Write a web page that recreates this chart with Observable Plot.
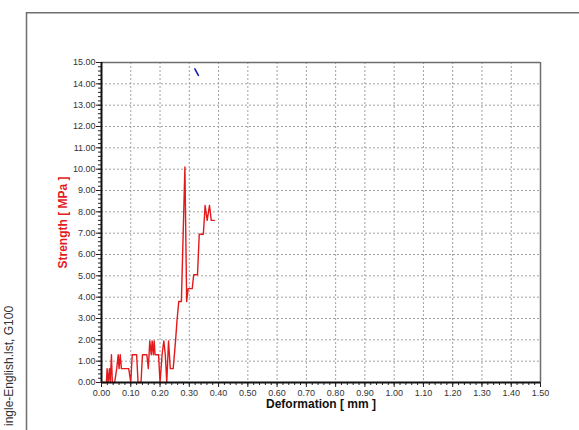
<!DOCTYPE html>
<html>
<head>
<meta charset="utf-8">
<script src="https://cdn.jsdelivr.net/npm/d3@7"></script>
<script src="https://cdn.jsdelivr.net/npm/@observablehq/plot@0.6"></script>
<style>
  html, body { margin: 0; padding: 0; background: #fff; }
  #chart { width: 579px; height: 430px; overflow: hidden; }
</style>
</head>
<body>
<div id="chart"></div>
<script>
// Strength test record: deformation [mm] vs strength [MPa]
const deformation = [
  0.000, 0.017, 0.019, 0.023, 0.027, 0.030, 0.034, 0.037, 0.045, 0.052,
  0.057, 0.060, 0.064, 0.068, 0.070, 0.093, 0.100, 0.105, 0.120, 0.125,
  0.135, 0.140, 0.155, 0.160, 0.165, 0.170, 0.173, 0.177, 0.180, 0.183,
  0.195, 0.200, 0.207, 0.213, 0.218, 0.223, 0.229, 0.235, 0.245, 0.253,
  0.258, 0.264, 0.273, 0.285, 0.291, 0.296, 0.310, 0.315, 0.328, 0.334,
  0.348, 0.354, 0.361, 0.369, 0.375, 0.386
];
const strength = [
  0.00, 0.00, 0.65, 0.00, 0.65, 0.00, 1.30, 0.00, 0.00, 0.65,
  1.30, 0.65, 1.30, 0.65, 0.65, 0.65, 0.00, 1.30, 1.30, 0.00,
  0.00, 1.30, 1.30, 0.65, 1.95, 1.30, 1.95, 1.30, 1.95, 1.30,
  1.30, 0.00, 1.30, 1.95, 1.30, 0.00, 1.95, 0.65, 0.65, 1.95,
  2.90, 3.80, 3.80, 10.10, 3.80, 4.40, 4.40, 5.05, 5.05, 6.95,
  6.95, 8.30, 7.60, 8.30, 7.60, 7.60
];

// Second trace (short segment near the top)
const deformation2 = [0.319, 0.331];
const strength2 = [14.70, 14.40];

// Axis ticks
const xTicks = [0.0, 0.1, 0.2, 0.3, 0.4, 0.5, 0.6, 0.7, 0.8, 0.9, 1.0, 1.1, 1.2, 1.3, 1.4, 1.5];
const yTicks = [0, 1, 2, 3, 4, 5, 6, 7, 8, 9, 10, 11, 12, 13, 14, 15];
const xMinor = d3.range(0, 76).map(i => i * 0.02);
const yMinor = d3.range(0, 76).map(i => i * 0.2);

const xLabel = "Deformation [ mm ]";
const yLabel = "Strength [ MPa ]";
const sideNote = "ingle-English.lst, G100";

const series1 = deformation.map((d, i) => ({x: d, y: strength[i]}));
const series2 = deformation2.map((d, i) => ({x: d, y: strength2[i]}));

const font = "'Liberation Sans', Arial, sans-serif";

const chart = Plot.plot({
  width: 579,
  height: 430,
  marginLeft: 101,
  marginRight: 39,
  marginTop: 62,
  marginBottom: 48,
  style: {fontFamily: font, background: "#fff", overflow: "visible"},
  x: {domain: [0, 1.5]},
  y: {domain: [0, 15]},
  marks: [
    // dotted grid
    Plot.ruleX(xTicks.slice(1, -1), {stroke: "#a0a0a0", strokeDasharray: "2,2", strokeWidth: 1}),
    Plot.ruleY(yTicks.slice(1, -1), {stroke: "#a0a0a0", strokeDasharray: "2,2", strokeWidth: 1}),
    // plot frame top and right
    Plot.ruleY([15], {stroke: "#6e6e6e", strokeWidth: 1.5}),
    Plot.ruleX([1.5], {stroke: "#6e6e6e", strokeWidth: 1.5}),
    // minor ticks
    Plot.axisX({ticks: xMinor, tickSize: 3, tickFormat: () => "", label: null, stroke: "#222"}),
    Plot.axisY({ticks: yMinor, tickSize: 3, tickFormat: () => "", label: null, stroke: "#222"}),
    // major ticks and labels
    Plot.axisX({ticks: xTicks, tickSize: 5, tickPadding: 2, tickFormat: d3.format(".2f"),
      label: null, fontSize: 9, fill: "#333", stroke: "#222"}),
    Plot.axisY({ticks: yTicks, tickSize: 5, tickPadding: 1, tickFormat: d3.format(".2f"),
      label: null, fontSize: 9, fill: "#333", stroke: "#222"}),
    // data
    Plot.line(series1, {x: "x", y: "y", stroke: "#e31a1c", strokeWidth: 1.4}),
    Plot.line(series2, {x: "x", y: "y", stroke: "#1c1cb0", strokeWidth: 1.6}),
    // axis lines
    Plot.ruleY([0], {stroke: "#111", strokeWidth: 2}),
    Plot.ruleX([0], {stroke: "#111", strokeWidth: 2}),
    // axis titles
    Plot.text([xLabel], {frameAnchor: "bottom", dy: 25, fontSize: 12, fontWeight: "bold", fill: "#111"}),
    Plot.text([yLabel], {frameAnchor: "left", dx: -38, rotate: -90, textAnchor: "middle",
      fontSize: 12, fontWeight: "bold", fill: "#e31a1c"})
  ]
});

document.getElementById("chart").appendChild(chart);

// Outer page frame and the file note along the left edge
const svg = d3.select(chart);
svg.append("path")
  .attr("d", "M26.5,430 V12.7 H579")
  .attr("fill", "none")
  .attr("stroke", "#6e6e6e")
  .attr("stroke-width", 1.5);
svg.append("text")
  .attr("transform", "translate(13,426) rotate(-90)")
  .attr("text-anchor", "start")
  .attr("font-family", font)
  .attr("font-size", 12)
  .attr("fill", "#333")
  .text(sideNote);
</script>
</body>
</html>
